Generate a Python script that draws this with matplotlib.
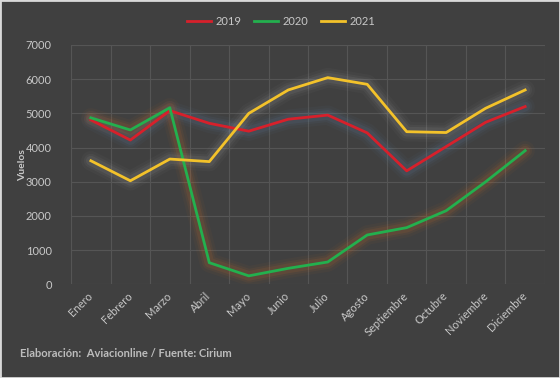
import matplotlib.pyplot as plt
import numpy as np

meses = ['Enero', 'Febrero', 'Marzo', 'Abril', 'Mayo', 'Junio', 'Julio',
         'Agosto', 'Septiembre', 'Octubre', 'Noviembre', 'Diciembre']
v2019 = [4810, 4220, 5080, 4710, 4480, 4830, 4950, 4430, 3320, 4030, 4740, 5200]
v2020 = [4870, 4515, 5165, 635, 250, 470, 655, 1445, 1660, 2155, 3000, 3910]
v2021 = [3615, 3030, 3665, 3590, 5000, 5685, 6045, 5850, 4465, 4440, 5150, 5685]

bg = '#404040'
txt = '#c8c8c8'
series = [
    ('2019', v2019, '#d7202b', '#5d7fa3'),
    ('2020', v2020, '#23b04e', '#c9692a'),
    ('2021', v2021, '#f3c22a', '#9a9a9a'),
]

fig = plt.figure(figsize=(5.6, 3.78), dpi=100, facecolor=bg)
ax = fig.add_axes([0.127, 0.2476, 0.846, 0.6334])
ax.set_facecolor(bg)

x = np.arange(len(meses))
for name, vals, col, glow in series:
    # soft glow under each line
    for w, a in [(14, 0.05), (10, 0.08), (7, 0.12)]:
        ax.plot(x, vals, color=glow, lw=w, alpha=a, solid_capstyle='round',
                solid_joinstyle='round', zorder=2)
for name, vals, col, glow in series:
    ax.plot(x, vals, color=col, lw=2, label=name, zorder=3)

ax.set_xlim(-0.5, 11.5)
ax.set_ylim(0, 7000)
ax.set_yticks(range(0, 7001, 1000))
ax.set_xticks(x)
ax.set_xticks(np.arange(-0.5, 12, 1), minor=True)
ax.set_xticklabels(meses, rotation=45, ha='right', va='center',
                   rotation_mode='anchor', fontsize=8, color=txt, family='Lato')
ax.tick_params(axis='x', which='both', length=0, pad=7)
ax.tick_params(axis='y', length=0, pad=14, labelsize=8, labelcolor=txt)
for lab in ax.get_yticklabels():
    lab.set_family('Lato')
ax.grid(True, which='minor', axis='x', color='#555555', lw=0.8)
ax.grid(True, which='major', axis='y', color='#555555', lw=0.8)
ax.grid(False, which='major', axis='x')
for s in ax.spines.values():
    s.set_visible(False)

ax.set_ylabel('Vuelos', fontsize=7.5, color=txt, fontweight='bold', family='Lato')
ax.yaxis.set_label_coords(-0.093, 0.5)

leg = fig.legend(loc='upper center', bbox_to_anchor=(0.502, 0.985), ncol=3,
                 frameon=False, handlelength=2.2, columnspacing=1.1,
                 handletextpad=0.4, prop={'family': 'Lato', 'size': 8})
for t in leg.get_texts():
    t.set_color(txt)

fig.text(0.036, 0.055, 'Elaboración:  Aviacionline / Fuente: Cirium', fontsize=8,
         color='#bdbdbd', fontweight='bold', family='Lato')

fig.patches.append(plt.Rectangle((0, 0), 1, 1, transform=fig.transFigure,
                                 fill=False, edgecolor='#d9d9d9', lw=2))

fig.savefig('out.png', dpi=100, facecolor=bg)
